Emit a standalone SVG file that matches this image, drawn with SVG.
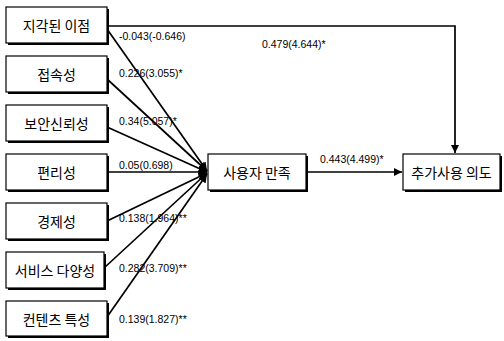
<svg xmlns="http://www.w3.org/2000/svg" width="504" height="341" viewBox="0 0 504 341">
<style>
.box{fill:#fff;stroke:#000;stroke-width:1.2}
.sh{fill:#000}
.kt{font-family:"Noto Sans CJK KR","Noto Sans",sans-serif;font-size:14px;fill:#000;text-anchor:middle;dominant-baseline:central}
.lb{font-family:"Liberation Sans",Arial,sans-serif;font-size:10.5px;fill:#000}
.ln{stroke:#000;stroke-width:1.7;fill:none}
</style>
<defs>
<marker id="ah" viewBox="0 0 10 10" refX="10" refY="5" markerWidth="5" markerHeight="5" orient="auto" markerUnits="strokeWidth">
<path d="M0,0 L10,5 L0,10 z" fill="#000"/>
</marker>
</defs>
<rect width="504" height="341" fill="#fff"/>
<g id="connectors">
<path class="ln" d="M107,26 H455 V153" marker-end="url(#ah)"/>
<path class="ln" d="M107,29 L207,171" marker-end="url(#ah)"/>
<path class="ln" d="M107,79 L207,171" marker-end="url(#ah)"/>
<path class="ln" d="M107,127 L207,172" marker-end="url(#ah)"/>
<path class="ln" d="M107,172 L207,172" marker-end="url(#ah)"/>
<path class="ln" d="M107,221 L207,173" marker-end="url(#ah)"/>
<path class="ln" d="M104,268 L207,173" marker-end="url(#ah)"/>
<path class="ln" d="M107,317 L207,174" marker-end="url(#ah)"/>
<path class="ln" d="M307,172 H402" marker-end="url(#ah)"/>
<text class="lb" x="119" y="40">-0.043(-0.646)</text>
<text class="lb" x="119" y="77">0.226(3.055)*</text>
<text class="lb" x="119" y="125">0.34(5.057)*</text>
<text class="lb" x="119" y="169">0.05(0.698)</text>
<text class="lb" x="119" y="222">0.138(1.964)**</text>
<text class="lb" x="119" y="272">0.282(3.709)**</text>
<text class="lb" x="119" y="323">0.139(1.827)**</text>
<text class="lb" x="262" y="48">0.479(4.644)*</text>
<text class="lb" x="320" y="163">0.443(4.499)*</text>
</g>
<g id="n1"><rect class="sh" x="8" y="9" width="101" height="36"/><rect class="box" x="6" y="7" width="101" height="36"/><text class="kt" x="56.5" y="25">지각된 이점</text></g>
<g id="n2"><rect class="sh" x="8" y="58" width="101" height="36"/><rect class="box" x="6" y="56" width="101" height="36"/><text class="kt" x="56.5" y="74">접속성</text></g>
<g id="n3"><rect class="sh" x="8" y="107" width="101" height="36"/><rect class="box" x="6" y="105" width="101" height="36"/><text class="kt" x="56.5" y="123">보안신뢰성</text></g>
<g id="n4"><rect class="sh" x="8" y="156" width="101" height="36"/><rect class="box" x="6" y="154" width="101" height="36"/><text class="kt" x="56.5" y="172">편리성</text></g>
<g id="n5"><rect class="sh" x="8" y="205" width="101" height="36"/><rect class="box" x="6" y="203" width="101" height="36"/><text class="kt" x="56.5" y="221">경제성</text></g>
<g id="n6"><rect class="sh" x="8" y="254" width="98" height="36"/><rect class="box" x="6" y="252" width="98" height="36"/><text class="kt" x="55" y="270">서비스 다양성</text></g>
<g id="n7"><rect class="sh" x="8" y="303" width="101" height="35"/><rect class="box" x="6" y="301" width="101" height="35"/><text class="kt" x="56.5" y="319">컨텐츠 특성</text></g>
<g id="n8"><rect class="sh" x="210" y="156" width="98" height="36"/><rect class="box" x="208" y="154" width="98" height="36"/><text class="kt" x="257" y="172">사용자 만족</text></g>
<g id="n9"><rect class="sh" x="405" y="156" width="97" height="36"/><rect class="box" x="403" y="154" width="97" height="36"/><text class="kt" x="451.5" y="172">추가사용 의도</text></g>
</svg>
